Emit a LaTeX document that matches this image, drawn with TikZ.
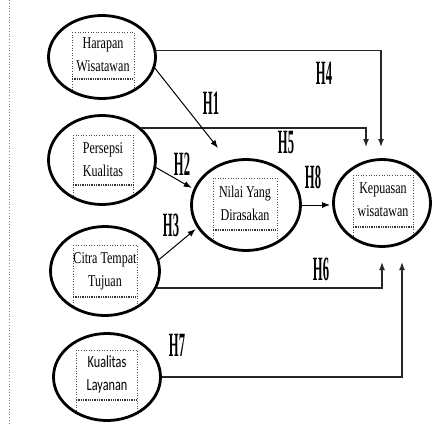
\documentclass[tikz,border=0pt]{standalone}
\usepackage{fontspec}
\setmainfont{Liberation Serif}
\newfontfamily\calib{Carlito}
\usetikzlibrary{arrows.meta,calc,shapes.geometric}
\newcommand{\twoline}[3][0.73]{\scalebox{#1}[1]{\begin{tabular}{@{}c@{}}#2\\#3\end{tabular}}}
\newcommand{\hlab}[1]{\scalebox{0.37}[1]{#1}}
\begin{document}
\begin{tikzpicture}[x=1pt,y=-1pt,
 ell/.style={ellipse, draw, line width=2.8pt, inner sep=0pt},
 txt/.style={font=\fontsize{16.5}{23}\selectfont, inner sep=0pt},
 stxt/.style={font=\calib\fontsize{17}{23}\selectfont, inner sep=0pt},
 hl/.style={font=\fontsize{34}{34}\selectfont\bfseries, inner sep=0pt},
 box/.style={dotted, line width=0.6pt, black!70},
 sepl/.style={densely dotted, line width=1.3pt, black!80},
 arr/.style={-{Latex[length=8pt,width=6pt]}, line width=1pt, shorten >=2pt},
 arrl/.style={-{Latex[length=8pt,width=6pt]}, line width=1.4pt, black!85},
]
\useasboundingbox (0,0) rectangle (433,423);
\fill[white] (0,0) rectangle (433,423);
\draw[dotted, gray, line width=0.8pt] (9.5,0) -- (9.5,423);

% ellipses
\node[ell, minimum width=107pt, minimum height=83pt] (hw) at (102,57) {};
\node[ell, minimum width=107pt, minimum height=89pt] (pk) at (102,160) {};
\node[ell, minimum width=109pt, minimum height=89pt] (ct) at (105,271) {};
\node[ell, minimum width=107pt, minimum height=87pt] (kl) at (107,377) {};
\node[ell, minimum width=109pt, minimum height=91pt] (nv) at (246,205) {};
\node[ell, minimum width=97pt, minimum height=87pt] (kw) at (382,203) {};

% dotted boxes (clipped to ellipses)
\begin{scope}
\clip (102,57) ellipse [x radius=52, y radius=40];
\draw[box] (72,32) rectangle (134,120);
\end{scope}
\draw[sepl] (72,79) -- (134,79);
\begin{scope}
\clip (102,160) ellipse [x radius=52, y radius=43];
\draw[box] (73,135) rectangle (133,230);
\end{scope}
\draw[sepl] (73,185) -- (133,185);
\begin{scope}
\clip (105,271) ellipse [x radius=53, y radius=43];
\draw[box] (73,245) rectangle (137,340);
\end{scope}
\draw[sepl] (73,297) -- (137,297);
\begin{scope}
\clip (107,377) ellipse [x radius=52, y radius=42];
\draw[box] (76,350) rectangle (137,440);
\end{scope}
\draw[sepl] (76,400) -- (137,400);
\begin{scope}
\clip (246,205) ellipse [x radius=53, y radius=44];
\draw[box] (213,178) rectangle (277,270);
\end{scope}
\draw[sepl] (213,230) -- (277,230);
\begin{scope}
\clip (382,203) ellipse [x radius=47, y radius=42];
\draw[box] (353,175) rectangle (413,270);
\end{scope}
\draw[sepl] (353,227) -- (413,227);

% texts
\node[txt] (t1) at (103,55.5) {\twoline{Harapan}{Wisatawan}};
\node[txt] (t2) at (103,160) {\twoline{Persepsi}{Kualitas}};
\node[txt] (t3) at (105,270) {\twoline{Citra Tempat}{Tujuan}};
\node[stxt] (t4) at (107,374) {\twoline[0.72]{Kualitas}{Layanan}};
\node[txt] (t5) at (245,204) {\twoline{Nilai Yang}{Dirasakan}};
\node[txt] (t6) at (383,200) {\twoline{Kepuasan}{wisatawan}};

% connectors
\coordinate (h4e) at (381,147);
\coordinate (h5e) at (366,147);
\coordinate (h1e) at (218,148);
\coordinate (h6e) at (382,262);
\coordinate (h7e) at (402,262);
\draw[arrl] (hw.7) -| (h4e);
\draw[arrl] (pk.39) -| (h5e);
\draw[arr, shorten >=0pt] (hw.-12) -- (h1e);
\draw[arr] (pk.-8) -- (nv.163);
\draw[arr] (ct.12) -- (nv.205);
\draw[arr] (nv.east) -- (nv.east -| kw.west);
\draw[arrl] (ct.-18) -| (h6e);
\draw[arrl] (kl.east) -| (h7e);

% hypothesis labels
\node[hl] (l1) at (211,103) {\hlab{H1}};
\node[hl] (l2) at (182,164) {\hlab{H2}};
\node[hl] (l3) at (171,225) {\hlab{H3}};
\node[hl] (l4) at (324,73) {\hlab{H4}};
\node[hl] (l5) at (286,143) {\hlab{H5}};
\node[hl] (l6) at (321,269) {\hlab{H6}};
\node[hl] (l7) at (177,345) {\hlab{H7}};
\node[hl] (l8) at (313,177) {\hlab{H8}};
\end{tikzpicture}
\end{document}
